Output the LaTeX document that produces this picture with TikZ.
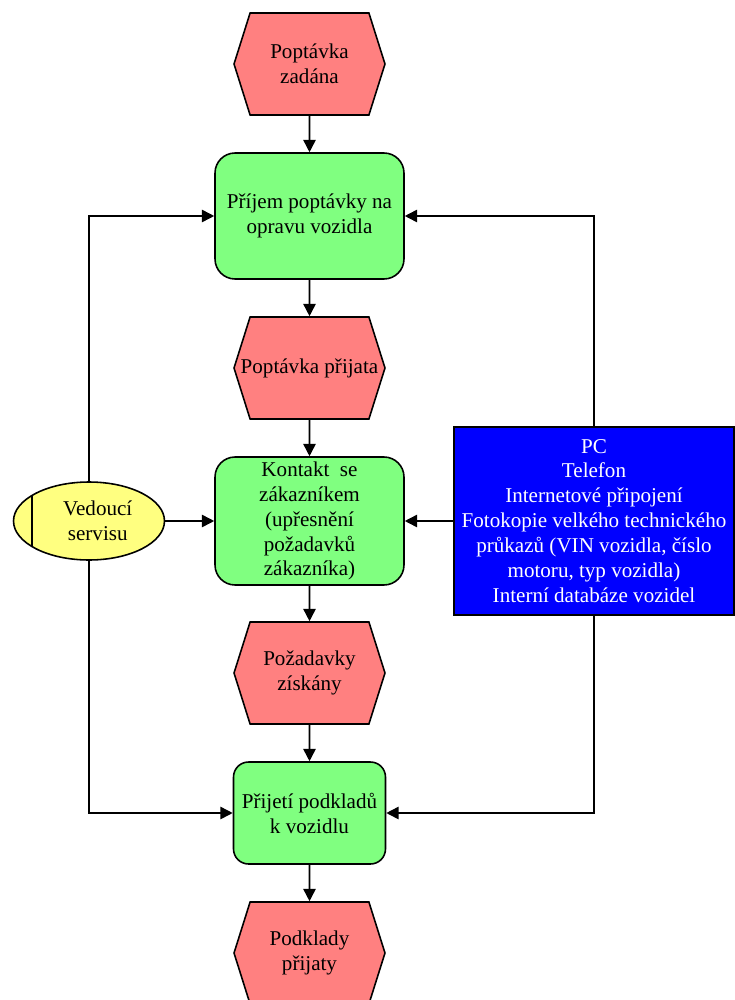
\documentclass[tikz,border=0pt]{standalone}
\usepackage{fontspec}
\setmainfont{Liberation Serif}
\usetikzlibrary{arrows.meta,shapes.symbols,shapes.geometric}
\definecolor{evtred}{HTML}{FF8080}
\definecolor{fngreen}{HTML}{80FF80}
\definecolor{orgyellow}{HTML}{FFFF80}
\definecolor{resblue}{HTML}{0000FF}
\begin{document}
\begin{tikzpicture}[x=0.02cm,y=-0.02cm,
  every node/.style={font=\fontsize{12}{14.2}\selectfont, align=center, inner sep=0pt},
  base/.style={draw=black, line width=0.9pt},
  event/.style={base, shape=signal, signal to=west and east, signal pointer angle=145,
    fill=evtred, minimum width=3.02cm, minimum height=2.04cm},
  func/.style={base, rectangle, rounded corners=0.4cm, fill=fngreen},
  org/.style={base, ellipse, fill=orgyellow, minimum width=3.02cm, minimum height=1.56cm},
  res/.style={base, rectangle, fill=resblue, text=white, minimum width=5.6cm, minimum height=3.76cm},
  arr/.style={line width=0.9pt, -{Triangle[length=7pt,width=7pt]}}]
\useasboundingbox (0,0) rectangle (734,1000);

% events
\node[event] (e1) at (309.5,64) {Poptávka\\zadána};
\node[event] (e2) at (309.5,368) {\makebox[2.3cm][c]{Poptávka přijata}};
\node[event] (e3) at (309.5,673) {Požadavky\\získány};
\node[event] (e4) at (309.5,953) {Podklady\\přijaty};

% functions
\node[func, minimum width=3.78cm, minimum height=2.52cm] (f1) at (309.5,216)
  {Příjem poptávky na\\opravu vozidla};
\node[func, minimum width=3.78cm, minimum height=2.56cm] (f2) at (309.5,521)
  {Kontakt \ se\\zákazníkem\\(upřesnění\\požadavků\\zákazníka)};
\node[func, rounded corners=0.3cm, minimum width=3.04cm, minimum height=2.04cm] (f3) at (309.5,813)
  {Přijetí podkladů\\k vozidlu};

% organisational unit with its left bar
\node[org] (ved) at (89,521) {\hspace*{0.35cm}Vedoucí\\\hspace*{0.35cm}servisu};
\draw[line width=0.9pt] ([shift={(19,-25.5)}]ved.west) -- ([shift={(19,25.5)}]ved.west);

% resources
\node[res] (pc) at (594,521)
  {PC\\Telefon\\Internetové připojení\\Fotokopie velkého technického\\průkazů (VIN vozidla, číslo\\motoru, typ vozidla)\\Interní databáze vozidel};

% control flow
\draw[arr] (e1) -- (f1);
\draw[arr] (f1) -- (e2);
\draw[arr] (e2) -- (f2);
\draw[arr] (f2) -- (e3);
\draw[arr] (e3) -- (f3);
\draw[arr] (f3) -- (e4);

% responsibility
\draw[arr] (ved.north) |- (f1.west);
\draw[arr] (ved.east) -- (f2.west);
\draw[arr] (ved.south) |- (f3.west);

% resources used
\draw[arr] (pc.north) |- (f1.east);
\draw[arr] (pc.west) -- (f2.east);
\draw[arr] (pc.south) |- (f3.east);
\end{tikzpicture}
\end{document}
